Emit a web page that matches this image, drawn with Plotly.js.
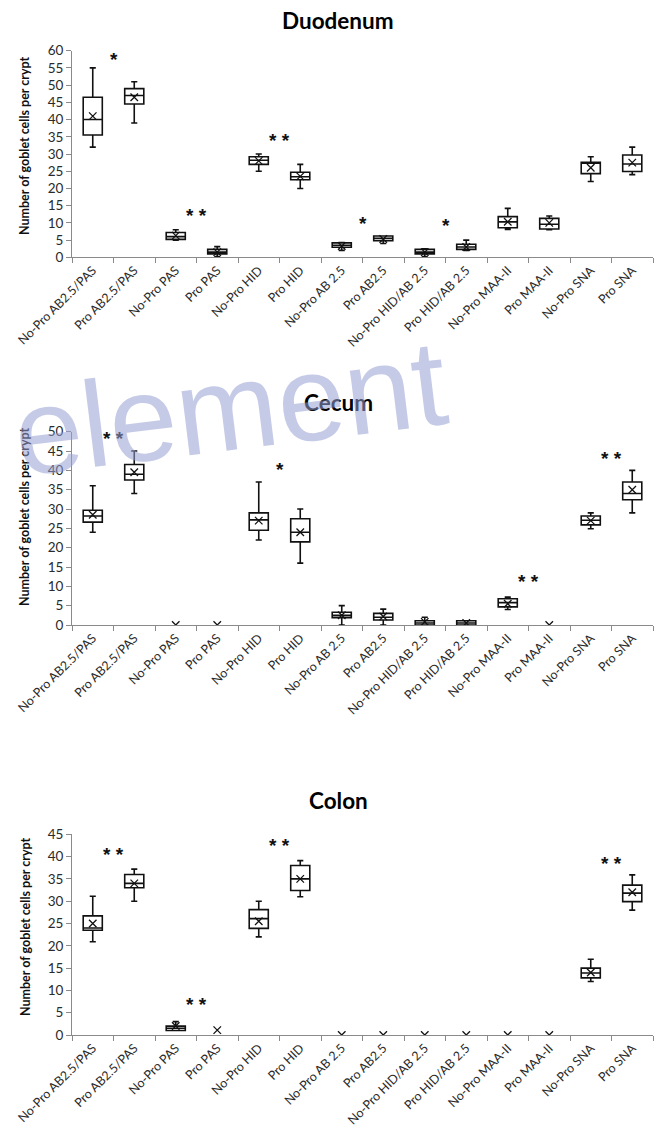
<!DOCTYPE html>
<html>
<head>
<meta charset="utf-8">
<script src="https://cdn.plot.ly/plotly-3.0.1.min.js"></script>
<style>html,body{margin:0;padding:0;background:#fff;}#chart{width:659px;height:1135px;}</style>
</head>
<body>
<div id="chart"></div>
<script>
// ---- categories ----
const categories = ['No-Pro AB2.5/PAS','Pro AB2.5/PAS','No-Pro PAS','Pro PAS','No-Pro HID','Pro HID',
  'No-Pro AB 2.5','Pro AB2.5','No-Pro HID/AB 2.5','Pro HID/AB 2.5','No-Pro MAA-II','Pro MAA-II','No-Pro SNA','Pro SNA'];

// ---- Duodenum ----
const duoMin  = [32, 39, 5,   0.2, 25,   20,   2,   4,   0.2, 2,   8.1, 8,   22,   24];
const duoQ1   = [35.5,44.5,5.2,1.0, 27,   22.5, 2.9, 4.8, 1.0, 2.3, 8.6, 8.2, 24.3, 24.9];
const duoMed  = [40, 47, 6,   1.5, 28.2, 23.4, 3.5, 5.5, 1.5, 3,   10.3,9.6, 27.3, 27.1];
const duoQ3   = [46.5,49, 7.2, 2.3, 29.2, 24.7, 4.2, 6.2, 2.3, 3.8, 11.8,11.3,27.6, 29.7];
const duoMax  = [55, 51, 8,   3.1, 30,   27,   4.3, 6.2, 2.5, 5,   14.2,12,  29.2, 32];
const duoMean = [41, 46.5,6.3,1.5, 28,   23.5, 3.3, 5.3, 1.5, 3,   10.3,10,  26,   27.5];
const duoSigPos  = [0.5, 2.5, 4.5, 6.5, 8.5];
const duoSigY    = [59, 13.5, 35.5, 11.3, 10.6];
const duoSigText = ['*', '* *', '* *', '*', '*'];

// ---- Cecum ----
const cecMin  = [24,   34,   null, null, 22,   16,   0,   0,   0,   0,   4,   null, 24.9, 29];
const cecQ1   = [26.6, 37.5, null, null, 24.5, 21.5, 1.9, 1.3, 0,   0,   4.7, null, 25.9, 32.4];
const cecMed  = [28.2, 39,   null, null, 27.2, 24,   2.5, 2,   0.5, 0.5, 5.8, null, 27.1, 34];
const cecQ3   = [29.7, 41.5, null, null, 29,   27.5, 3.3, 3,   1.1, 1.1, 6.8, null, 28.2, 37];
const cecMax  = [36,   45,   null, null, 37,   30,   5,   4.1, 2,   1.1, 7.2, null, 29,   40];
const cecMean = [28.5, 39.5, 0,    0,    27,   24,   2.5, 2.2, 0.8, 0.5, 5.5, 0,    27,   35];
const cecSigPos  = [0.5, 4.5, 10.5, 12.5];
const cecSigY    = [49.6, 41.6, 12.5, 44.4];
const cecSigText = ['* *', '*', '* *', '* *'];

// ---- Colon ----
const colMin  = [20.9, 30,   1,   null, 22,   31,   null,null,null,null,null,null, 12,   28];
const colQ1   = [23.5, 33,   1.0, null, 23.9, 32.4, null,null,null,null,null,null, 12.8, 29.9];
const colMed  = [24,   34,   1.5, null, 26.1, 35,   null,null,null,null,null,null, 13.9, 31.8];
const colQ3   = [26.7, 36,   2.0, null, 28.1, 38,   null,null,null,null,null,null, 15,   33.6];
const colMax  = [31.1, 37.2, 3,   null, 30,   39.1, null,null,null,null,null,null, 17,   35.9];
const colMean = [25,   34,   2,   1.1,  25.5, 35,   0,   0,   0,   0,   0,   0,    14,   32];
const colSigPos  = [0.5, 4.5, 2.5, 12.5];
const colSigY    = [41.7, 43.6, 8.0, 39.6];
const colSigText = ['* *', '* *', '* *', '* *'];

const panelTitles = ['Duodenum', 'Cecum', 'Colon'];
const yTitle = 'Number of goblet cells per crypt';
const watermark = 'element';

// ---- layout geometry (pixels) ----
const W = 659, H = 1135;
const xL = 72, xR = 653;
const panels = [
  {top: 50.7, bottom: 257.3, max: 60, titleY: 20, yTitleC: 146,
   mn: duoMin, q1: duoQ1, md: duoMed, q3: duoQ3, mx: duoMax, mean: duoMean,
   sp: duoSigPos, sy: duoSigY, st: duoSigText},
  {top: 431.7, bottom: 625, max: 50, titleY: 403, yTitleC: 517,
   mn: cecMin, q1: cecQ1, md: cecMed, q3: cecQ3, mx: cecMax, mean: cecMean,
   sp: cecSigPos, sy: cecSigY, st: cecSigText},
  {top: 834.3, bottom: 1035, max: 45, titleY: 800, yTitleC: 927,
   mn: colMin, q1: colQ1, md: colMed, q3: colQ3, mx: colMax, mean: colMean,
   sp: colSigPos, sy: colSigY, st: colSigText}
];

const traces = [];
const annotations = [];
const layout = {
  width: W, height: H, margin: {l: 0, r: 0, t: 0, b: 0},
  paper_bgcolor: '#fff', plot_bgcolor: 'rgba(0,0,0,0)', showlegend: false,
  font: {family: 'Lato, "Open Sans", sans-serif', color: '#222'}
};

panels.forEach((p, i) => {
  const n = i === 0 ? '' : String(i + 1);
  const xa = 'x' + n, ya = 'y' + n;
  // boxes (only categories with data)
  const idx = categories.map((c, k) => k).filter(k => p.q1[k] !== null);
  traces.push({
    type: 'box', xaxis: xa, yaxis: ya,
    x: idx.map(k => categories[k]),
    lowerfence: idx.map(k => p.mn[k]), q1: idx.map(k => p.q1[k]),
    median: idx.map(k => p.md[k]), q3: idx.map(k => p.q3[k]),
    upperfence: idx.map(k => p.mx[k]),
    boxpoints: false, width: 0.46, whiskerwidth: 0.32,
    fillcolor: 'rgba(255,255,255,0)', line: {color: '#111', width: 1.6},
    hoverinfo: 'skip'
  });
  // mean markers
  traces.push({
    type: 'scatter', mode: 'markers', xaxis: xa, yaxis: ya,
    x: categories, y: p.mean,
    marker: {symbol: 'x-thin-open', size: 7.5, color: '#111', line: {color: '#111', width: 1.3}},
    hoverinfo: 'skip'
  });
  const bot = 1 - p.bottom / H, top = 1 - p.top / H;
  layout['xaxis' + n] = {
    domain: [xL / W, xR / W], anchor: ya, type: 'category',
    categoryorder: 'array', categoryarray: categories, range: [-0.5, 13.5],
    showline: true, linecolor: '#8a8a8a', linewidth: 1,
    ticks: 'outside', tickson: 'boundaries', ticklen: 5, tickcolor: '#8a8a8a',
    tickangle: -45, tickfont: {size: 12.5, color: '#2a2a2a'},
    showgrid: false, zeroline: false, fixedrange: true
  };
  layout['yaxis' + n] = {
    domain: [bot, top], anchor: xa, range: [0, p.max], dtick: 5,
    showline: true, linecolor: '#8a8a8a', linewidth: 1,
    ticks: 'outside', ticklen: 5, tickcolor: '#8a8a8a',
    tickfont: {size: 13.5, color: '#2a2a2a'},
    showgrid: false, zeroline: false, fixedrange: true
  };
  // panel title
  annotations.push({
    xref: 'paper', yref: 'paper', x: 338 / W, y: 1 - p.titleY / H,
    text: '<b>' + panelTitles[i] + '</b>', showarrow: false,
    xanchor: 'center', yanchor: 'middle',
    font: {size: 22.5, color: '#000'}
  });
  // y title
  annotations.push({
    xref: 'paper', yref: 'paper', x: 25 / W, y: 1 - p.yTitleC / H,
    text: '<b>' + yTitle + '</b>', showarrow: false, textangle: -90,
    xanchor: 'center', yanchor: 'middle',
    font: {size: 12.5, color: '#111'}
  });
  // significance marks
  p.sp.forEach((pos, k) => {
    annotations.push({
      xref: xa, yref: ya, x: pos, y: p.sy[k], text: '<b>' + p.st[k] + '</b>',
      showarrow: false, xanchor: 'center', yanchor: 'middle', yshift: -5,
      font: {family: '"Liberation Sans", Arial, sans-serif', size: 19, color: '#111'}
    });
  });
});

// watermark
annotations.push({
  xref: 'paper', yref: 'paper', x: 230 / W, y: 1 - 408 / H,
  text: watermark, showarrow: false, textangle: -7,
  xanchor: 'center', yanchor: 'middle',
  font: {family: '"Liberation Sans", Arial, sans-serif', size: 122, color: 'rgba(150,158,210,0.55)'}
});

layout.annotations = annotations;
Plotly.newPlot('chart', traces, layout, {staticPlot: true, displayModeBar: false});
</script>
</body>
</html>
